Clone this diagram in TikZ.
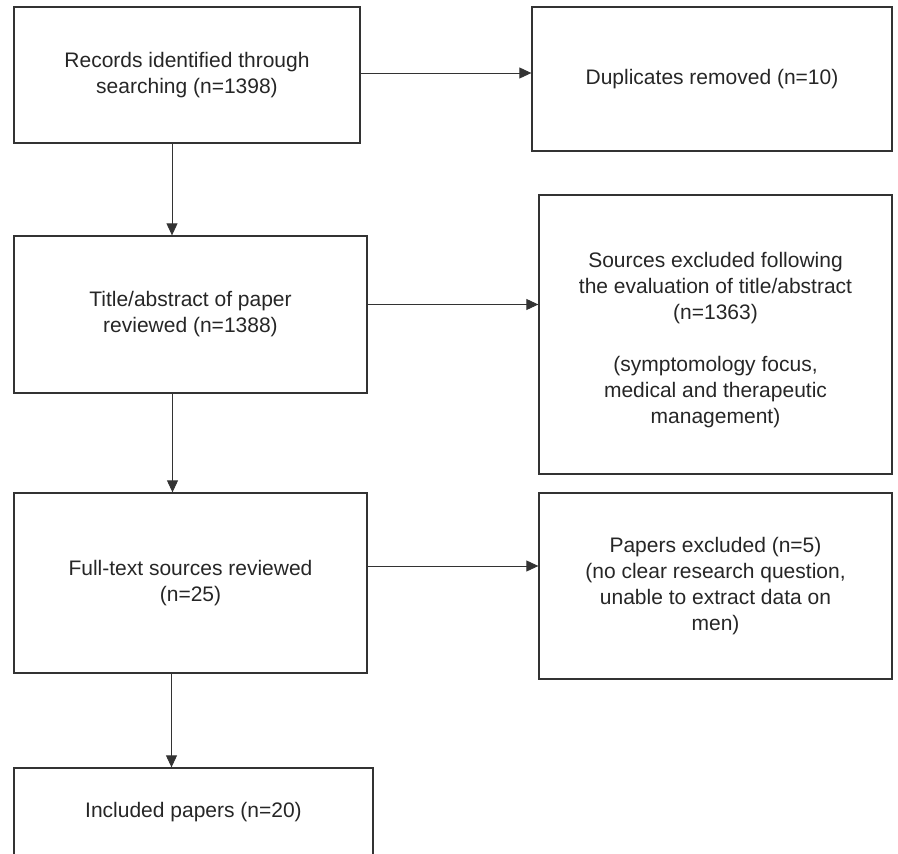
\documentclass[tikz,border=0pt]{standalone}
\usepackage{fontspec}
\setmainfont{Liberation Sans}
\usetikzlibrary{arrows.meta}
\begin{document}
\begin{tikzpicture}[x=1pt,y=-1pt,
  box/.style={draw=black!80,line width=1.3pt,align=center,inner sep=0pt,text=black!85,font=\fontsize{21}{26}\selectfont},
  arr/.style={draw=black!80,line width=0.9pt,-{Triangle[length=12pt,width=11pt]}}]
\useasboundingbox (0,0) rectangle (898,854);
\clip (0,0) rectangle (898,854);
\node[box,minimum width=346pt,minimum height=136pt] (rec) at (187,75) {Records identified through\\searching (n=1398)};
\node[box,minimum width=360pt,minimum height=144pt] (dup) at (712,79) {Duplicates removed (n=10)};
\node[box,minimum width=353pt,minimum height=157pt] (title) at (190.5,314.5) {Title/abstract of paper\\reviewed (n=1388)};
\node[box,minimum width=353pt,minimum height=279pt] (excl) at (715.5,334.5) {\mbox{}\\Sources excluded following\\the evaluation of title/abstract\\(n=1363)\\\mbox{}\\(symptomology focus,\\medical and therapeutic\\management)};
\node[box,minimum width=353pt,minimum height=180pt] (full) at (190.5,583) {Full-text sources reviewed\\(n=25)};
\node[box,minimum width=353pt,minimum height=186pt] (pap) at (715.5,586) {Papers excluded (n=5)\\(no clear research question,\\unable to extract data on\\men)};
\node[box,minimum width=359pt,minimum height=88pt] (inc) at (193.5,812) {Included papers (n=20)};
\draw[arr] ([yshift=2pt]rec.east) -- ([yshift=2pt]rec.east -| dup.west);
\draw[arr] ([yshift=10pt]title.east) -- ([yshift=10pt]title.east -| excl.west);
\draw[arr] ([yshift=17pt]full.east) -- ([yshift=17pt]full.east -| pap.west);
\draw[arr] ([xshift=-15pt]rec.south) -- ([xshift=-15pt]rec.south |- title.north);
\draw[arr] ([xshift=-18pt]title.south) -- ([xshift=-18pt]title.south |- full.north);
\draw[arr] ([xshift=-19pt]full.south) -- ([xshift=-19pt]full.south |- inc.north);
\end{tikzpicture}
\end{document}
